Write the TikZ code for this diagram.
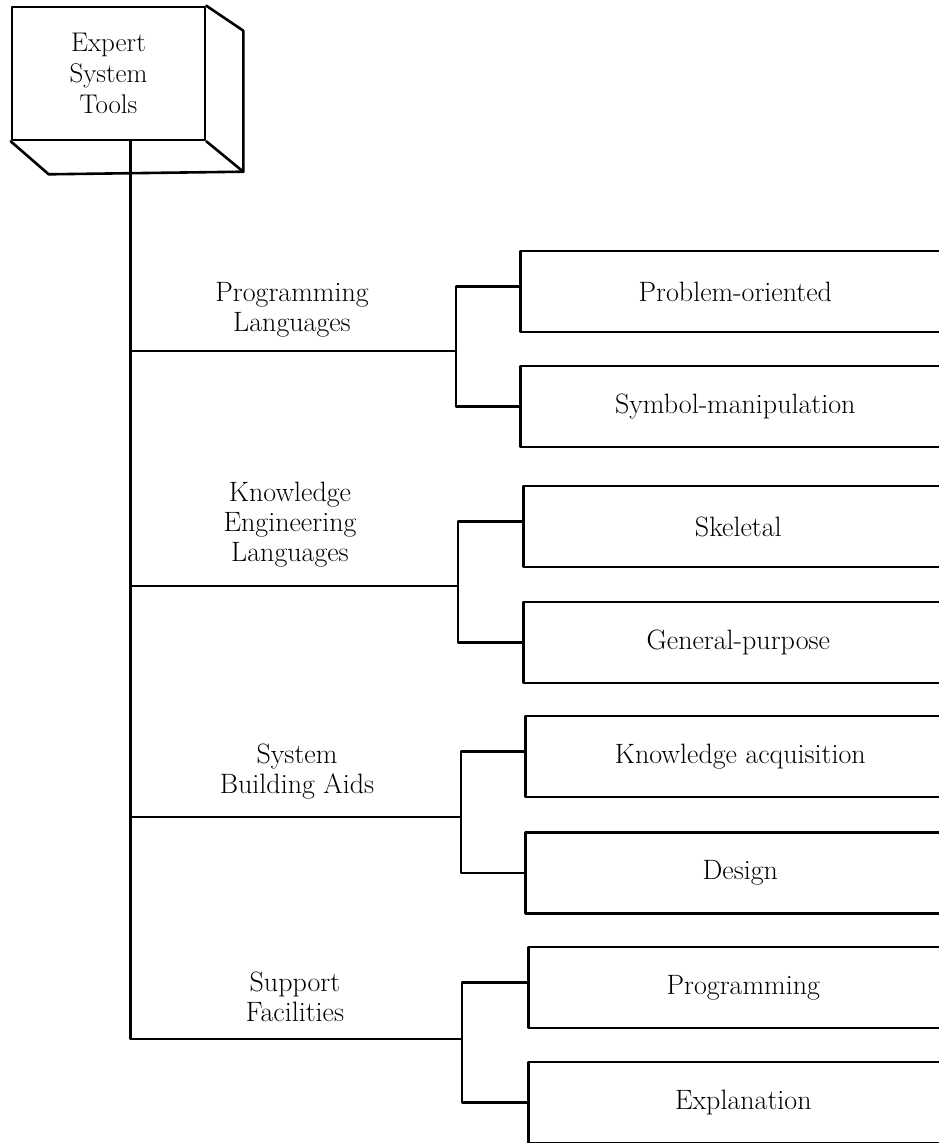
\documentclass[tikz,border=0pt]{standalone}
\usetikzlibrary{calc}
\begin{document}
\begin{tikzpicture}[x=1pt,y=-1pt,
  conn/.style={line width=2.6pt, line cap=round, line join=round},
  txt/.style={font=\fontsize{28}{30}\selectfont, align=center, inner sep=0pt},
  leaf/.style={draw, line width=2.6pt, line join=round, minimum height=81pt, minimum width=430pt,
               anchor=west, inner sep=0pt, font=\fontsize{28}{30}\selectfont},
]
\useasboundingbox (0,0) rectangle (938,1143);

% cube
\node[draw, line width=2.6pt, line join=round, minimum width=193pt, minimum height=133pt,
      align=center, inner sep=0pt, font=\fontsize{27}{31}\selectfont] (tools) at (108.5,73.5)
      {Expert\\System\\Tools};
\draw[conn] (tools.north east) -- ++(37,25) coordinate (bk1) -- ++(0,141) coordinate (bk2)
            -- (tools.south east);
\draw[conn] (tools.south west) -- ++(38,33) -- (bk2);

% category labels
\node[txt] (l1) at (292,310) {Programming\\Languages};
\node[txt] (l2) at (290,525) {Knowledge\\Engineering\\Languages};
\node[txt] (l3) at (297,772) {System\\Building Aids};
\node[txt] (l4) at (295,997) {Support\\Facilities};

% leaf boxes
\node[leaf] (b1) at (519,291.5) {Problem-oriented};
\node[leaf] (b2) at (519,406.5) {Symbol-manipulation};
\node[leaf] (b3) at (522,526.5) {Skeletal};
\node[leaf] (b4) at (522,642.5) {General-purpose};
\node[leaf] (b5) at (524,756.5) {Knowledge acquisition};
\node[leaf] (b6) at (524,873) {Design};
\node[leaf] (b7) at (527,987.5) {Programming};
\node[leaf] (b8) at (527,1102.5) {Explanation};

% junctions
\coordinate (t0) at ([xshift=22pt]tools.south);
\coordinate (j1) at (456,351);
\coordinate (j2) at (458,586);
\coordinate (j3) at (461,817);
\coordinate (j4) at (462,1039);

% trunk and branches
\draw[conn] (t0) |- (j4);
\draw[conn] (t0 |- j1) -- (j1);
\draw[conn] (t0 |- j2) -- (j2);
\draw[conn] (t0 |- j3) -- (j3);

\draw[conn] ([yshift=5pt]b1.west) -| (j1) |- (b2.west);
\draw[conn] ([yshift=5pt]b3.west) -| (j2) |- (b4.west);
\draw[conn] ([yshift=5pt]b5.west) -| (j3) |- (b6.west);
\draw[conn] ([yshift=5pt]b7.west) -| (j4) |- (b8.west);
\end{tikzpicture}
\end{document}
